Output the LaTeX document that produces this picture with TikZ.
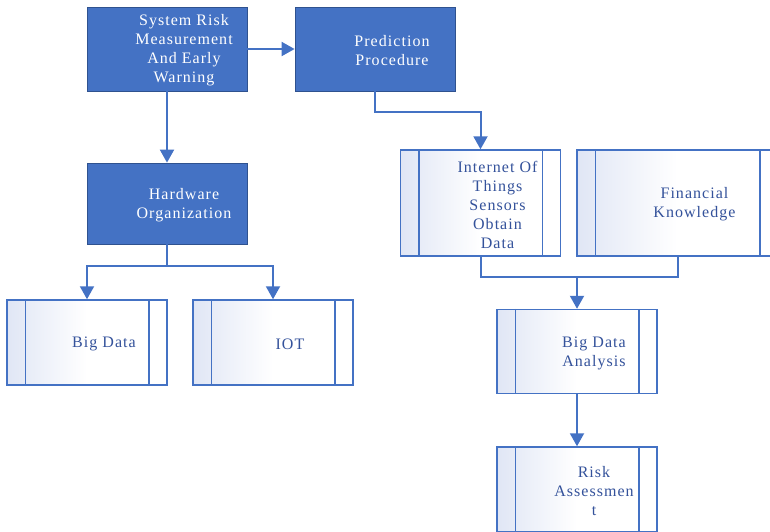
\documentclass[tikz,border=0pt]{standalone}
\usepackage{fontspec}
\setmainfont{Liberation Serif}[LetterSpace=6.5]
\usetikzlibrary{arrows.meta,positioning}
\definecolor{mainblue}{RGB}{68,114,196}
\definecolor{darkedge}{RGB}{47,82,143}
\definecolor{lightfill}{RGB}{224,230,245}
\definecolor{txtblue}{RGB}{52,82,155}
\tikzset{
  filledbox/.style={draw=darkedge, line width=0.8pt, fill=mainblue, minimum width=160pt, minimum height=84pt, inner sep=0pt},
  subbox/.style={draw=mainblue, line width=1.5pt, shading=axis, left color=lightfill, right color=white, middle color=white, shading angle=90, minimum width=160pt, minimum height=85pt, inner sep=0pt},
  whitetxt/.style={text=white, align=center, font=\fontsize{16}{19}\selectfont, inner sep=0pt},
  bluetxt/.style={text=txtblue, align=center, font=\fontsize{16}{19}\selectfont, inner sep=0pt},
  conn/.style={draw=mainblue, line width=2pt},
  arr/.style={conn, -{Triangle[length=13pt,width=14pt]}},
}
\begin{document}
\begin{tikzpicture}[x=1pt,y=-1pt]
\useasboundingbox (0,0) rectangle (770,531);
\clip (0,0) rectangle (770,531);
% filled boxes
\node[filledbox] (sys) at (167,49) {};
\node[filledbox] (pred) at (375,49) {};
\node[filledbox, minimum height=81pt] (hw) at (167,203.5) {};
% subprocess boxes
\node[subbox] (bd) at (87,342.5) {};
\node[subbox] (iot) at (273,342.5) {};
\node[subbox, minimum height=106pt] (sens) at (480.5,203) {};
\node[subbox, minimum height=106pt, minimum width=201pt] (fin) at (677.5,203) {};
\node[subbox, minimum height=84pt] (bda) at (577,351.5) {};
\node[subbox] (risk) at (577,489.5) {};
\foreach \n in {bd,iot,sens,fin,bda,risk}{
  \draw[draw=mainblue, line width=1.5pt] ([xshift=19pt]\n.north west) -- ([xshift=19pt]\n.south west);
  \draw[draw=mainblue, line width=1.5pt] ([xshift=-19pt]\n.north east) -- ([xshift=-19pt]\n.south east);
}
% texts
\node[whitetxt] (tsys) at ([xshift=17pt,yshift=-1.5pt]sys.center) {System Risk\\Measurement\\And Early\\Warning};
\node[whitetxt] (tpred) at ([xshift=17pt,yshift=-1.5pt]pred.center) {Prediction\\Procedure};
\node[whitetxt] (thw) at ([xshift=17pt,yshift=-1.5pt]hw.center) {Hardware\\Organization};
\node[bluetxt] (tbd) at ([xshift=17pt,yshift=-1.5pt]bd.center) {Big Data};
\node[bluetxt] (tiot) at ([xshift=17pt,yshift=-1.5pt]iot.center) {IOT};
\node[bluetxt] (tsens) at ([xshift=17pt,yshift=-1.5pt]sens.center) {Internet Of\\Things\\Sensors\\Obtain\\Data};
\node[bluetxt] (tfin) at ([xshift=17pt,yshift=-1.5pt]fin.center) {Financial\\Knowledge};
\node[bluetxt] (tbda) at ([xshift=17pt,yshift=-1.5pt]bda.center) {Big Data\\Analysis};
\node[bluetxt] (trisk) at ([xshift=17pt,yshift=-1.5pt]risk.center) {Risk\\Assessmen\\t};
% connectors
\draw[arr] (sys.east) -- (pred.west);
\draw[arr] (sys.south) -- (hw.north);
\coordinate (hj) at (167,266);
\draw[conn] (hw.south) -- (hj);
\draw[arr] (hj) -| (bd.north);
\draw[arr] (hj) -| (iot.north);
\coordinate (pj) at (375,112);
\draw[arr] (pred.south) -- (pj) -| (sens.north);
\coordinate (sj) at (577,277);
\draw[conn] (sens.south) |- (sj) -| (fin.south);
\draw[arr] (sj) -- (bda.north);
\draw[arr] (bda.south) -- (risk.north);
\end{tikzpicture}
\end{document}
